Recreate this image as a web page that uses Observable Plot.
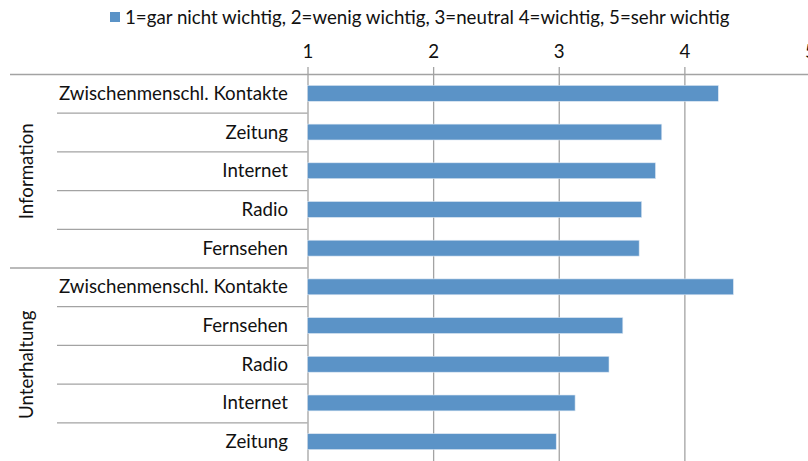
<!DOCTYPE html>
<html>
<head>
<meta charset="utf-8">
<script src="https://cdn.jsdelivr.net/npm/d3@7"></script>
<script src="https://cdn.jsdelivr.net/npm/@observablehq/plot@0.6"></script>
<style>
  body { margin: 0; background: #fff; font-family: Lato, "Open Sans", sans-serif; }
  #wrap { position: relative; width: 808px; height: 461px; overflow: hidden; }
  #legend { position: absolute; left: 110px; top: 4px; height: 26px; display: flex; align-items: center; font-size: 18.7px; color: #111; white-space: nowrap; }
  #legend .sw { width: 10px; height: 10px; background: #5b93c7; margin-right: 5px; }
  #chart { position: absolute; left: 0; top: 33px; }
</style>
</head>
<body>
<div id="wrap">
  <div id="legend"><span class="sw"></span><span id="legtext"></span></div>
  <div id="chart"></div>
</div>
<script>
const groups = ["Information", "Unterhaltung"];
const infoLabels = ["Zwischenmenschl. Kontakte", "Zeitung", "Internet", "Radio", "Fernsehen"];
const infoValues = [4.27, 3.82, 3.77, 3.66, 3.64];
const unterLabels = ["Zwischenmenschl. Kontakte", "Fernsehen", "Radio", "Internet", "Zeitung"];
const unterValues = [4.39, 3.51, 3.40, 3.13, 2.98];
const tickValues = [1, 2, 3, 4, 5];
const legendLabel = "1=gar nicht wichtig, 2=wenig wichtig, 3=neutral 4=wichtig, 5=sehr wichtig";

document.getElementById("legtext").textContent = legendLabel;

const rows = [];
[[infoLabels, infoValues], [unterLabels, unterValues]].forEach(([labs, vals], g) => {
  labs.forEach((l, j) => rows.push({group: groups[g], label: l, value: vals[j], i: rows.length}));
});
const nRows = rows.length;
const groupInfo = groups.map((g, k) => {
  const rs = rows.filter(r => r.group === g);
  return {group: g, start: rs[0].i, end: rs[rs.length - 1].i + 1, mid: (rs[0].i + rs[rs.length - 1].i + 1) / 2};
});
const groupBounds = groupInfo.map(d => d.end).filter(e => e < nRows);
const rowBounds = rows.map(r => r.i).filter(i => i > 0 && !groupBounds.includes(i));

const W = 808, H = 428, ML = 307.5, MT = 41;
const frameW = W - ML;
const gridColor = "#a3a3a3";
const FS = 18.7;

const plot = Plot.plot({
  width: W,
  height: H,
  marginLeft: ML,
  marginRight: 0,
  marginTop: MT,
  marginBottom: 0,
  style: {fontFamily: "Lato, 'Open Sans', sans-serif", fontSize: FS + "px", color: "#111", background: "#fff"},
  x: {domain: [1, 5], range: [ML, 810], label: null},
  y: {domain: [nRows, 0], axis: null},
  marks: [
    Plot.ruleX(tickValues, {x: d => d, stroke: gridColor, strokeWidth: 1.3, insetTop: -7}),
    Plot.ruleY([0], {y: d => d, stroke: gridColor, strokeWidth: 1.3, insetLeft: -(ML - 10)}),
    Plot.ruleY(groupBounds, {y: d => d, stroke: gridColor, strokeWidth: 1.3, insetLeft: -(ML - 10), insetRight: frameW}),
    Plot.ruleY(rowBounds, {y: d => d, stroke: gridColor, strokeWidth: 1.3, insetLeft: -(ML - 57), insetRight: frameW}),
    Plot.rectX(rows, {x1: 1, x2: "value", y1: d => d.i + 0.295, y2: d => d.i + 0.705, fill: "#5b93c7", stroke: "#dbe6f2", strokeWidth: 0.6}),
    Plot.text(rows, {y: d => d.i + 0.5, text: "label", frameAnchor: "left", textAnchor: "end", dx: -20, fontSize: FS, fill: "#111"}),
    Plot.text(groupInfo, {y: "mid", text: "group", frameAnchor: "left", dx: -(ML - 26.5), rotate: -90, textAnchor: "middle", fontSize: FS, fill: "#111"}),
    Plot.axisX(tickValues, {anchor: "top", tickSize: 0, tickPadding: 17, fontSize: FS, tickFormat: d => String(d), fill: "#111", label: null})
  ]
});
document.getElementById("chart").appendChild(plot);
</script>
</body>
</html>
